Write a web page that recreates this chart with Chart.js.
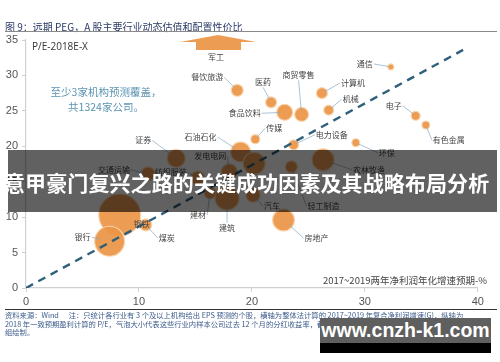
<!DOCTYPE html>
<html>
<head>
<meta charset="utf-8">
<script src="https://cdn.jsdelivr.net/npm/chart.js@4.4.1/dist/chart.umd.min.js"></script>
<style>
  html, body { margin: 0; padding: 0; background: #fff; }
  #wrap { position: relative; width: 500px; height: 362px; overflow: hidden; font-family: "Noto Sans CJK SC", "Noto Sans", sans-serif; }
  #c { position: absolute; left: 0; top: 0; }
  .abs { position: absolute; white-space: nowrap; }
  #title { left: 5px; top: 19px; font-size: 10px; color: #2b3a66; }
  #rule-top { left: 5px; top: 31px; width: 492px; height: 0; border-top: 1.5px solid #8a8a8a; }
  #rule-bot { left: 5px; top: 309px; width: 492px; height: 0; border-top: 1.5px solid #333; }
  #ylab { left: 32px; top: 39px; font-size: 10px; color: #333; font-family: "Open Sans", sans-serif; }
  #note { left: 50px; top: 84px; width: 112px; text-align: center; font-size: 10.5px; line-height: 15px; color: #5b93b0; }
  #xlab { right: 13px; top: 273px; font-size: 9.5px; color: #444; }
  #src { left: 5px; top: 311px; font-size: 7.3px; line-height: 8.6px; color: #3b5a8a; }
  #banner { left: 8px; top: 150px; width: 489px; height: 62px; background: rgba(0,0,0,0.62); }
  #headline { left: 4px; top: 169px; font-size: 21px; line-height: 26px; font-weight: 700; color: #fff; letter-spacing: 0.1px; }
  #wm { left: 320px; top: 318px; width: 171px; height: 25px; background: #5f5f5f; color: #fff; font-weight: 700; font-size: 19.5px; line-height: 25px; text-align: center; font-family: "Liberation Sans", Arial, sans-serif; }
  #wm2 { left: 320px; top: 343px; width: 171px; height: 10px; background: #000; }
</style>
</head>
<body>
<div id="wrap">
  <canvas id="c" width="500" height="362"></canvas>
  <div class="abs" id="title">图 9：远期 PEG，A 股主要行业动态估值和配置性价比</div>
  <div class="abs" id="rule-top"></div>
  <div class="abs" id="ylab">P/E-2018E-X</div>
  <div class="abs" id="note">至少3家机构预测覆盖，<br>共1324家公司。</div>
  <div class="abs" id="xlab">2017~2019两年净利润年化增速预期-%</div>
  <div class="abs" id="rule-bot"></div>
  <div class="abs" id="src">资料来源：Wind&nbsp;&nbsp;&nbsp;&nbsp;&nbsp;&nbsp;注：只统计各行业有 3 个及以上机构给出 EPS 预测的个股，横轴为整体法计算的 2017~2019 年复合净利润增速(G)，纵轴为<br>2018 年一致预期盈利计算的 P/E，气泡大小代表这些行业内样本公司过去 12 个月的分红收益率，截至 2017/11/06 市值加权，天风证券研究所策略<br>组绘制。</div>
  <div class="abs" id="banner"></div>
  <div class="abs" id="headline">意甲豪门复兴之路的关键成功因素及其战略布局分析</div>
  <div class="abs" id="wm">www.cnzh-k1.com</div>
  <div class="abs" id="wm2"></div>
</div>
<script>
// Industries, 2017~2019 profit growth (%), 2018E P/E, and trailing dividend yield (%)
const industries = ['餐饮旅游','医药','食品饮料','商贸零售','计算机','机械','通信','电子','有色金属','传媒',
  '石油石化','证券','电力设备','环保','农林牧渔','交通运输','纺织服装','发电电网','化工','建材',
  '建筑','汽车','轻工制造','钢铁','煤炭','银行','房地产','军工'];
const growth = [18.7,21.7,22.9,24.4,26.2,26.8,32.3,34.5,35.4,20.3,
  19.0,13.3,23.7,29.2,26.3,10.8,15.2,18.0,20.2,16.3,
  17.8,20.1,23.5,8.3,10.6,7.4,22.8,17.0];
const pe = [27.9,26.2,24.8,24.5,27.5,25.1,31.2,24.3,23.0,21.0,
  19.2,18.3,20.2,20.5,18.1,16.1,15.5,16.4,17.6,13.4,
  12.7,13.1,17.1,10.3,8.9,6.6,9.6,40.0];
const dividendYield = [0.64,0.54,1.14,0.87,0.54,0.44,0.16,0.36,0.28,0.36,
  1.78,1.44,0.44,0.28,2.15,0.87,0.87,1.14,2.15,0.64,
  2.56,0.87,0.64,7.84,0.64,4.00,2.15,1.00];

// Reference line (PEG = 1 style diagonal)
const refLineX = [0, 38.7];
const refLineY = [0, 33.6];

// Axis ticks
const xTicks = [0, 10, 20, 30, 40];
const yTicks = [0, 5, 10, 15, 20, 25, 30, 35];

// Label placement relative to each bubble centre (px)
const labelOffset = {
  '餐饮旅游': [-30,-13], '医药': [-8,-20], '食品饮料': [-40,1], '商贸零售': [-3,-39],
  '计算机': [31,-10], '机械': [22,-11], '通信': [-26,-3], '电子': [-22,-10],
  '有色金属': [23,15], '传媒': [19,-11], '石油石化': [-40,-15], '证券': [-33,-18],
  '电力设备': [38,-10], '环保': [31,10], '农林牧渔': [46,10], '交通运输': [-34,-4],
  '纺织服装': [-27,-6], '发电电网': [-19,-16], '建材': [-12,22], '建筑': [0,30],
  '汽车': [19,11], '轻工制造': [32,39], '钢铁': [22,9], '煤炭': [21,13],
  '银行': [-27,-4], '房地产': [33,18]
};

const bubbleRadius = v => 7.5 * Math.sqrt(v);
const bubblePoints = industries.map((n, i) => ({ x: growth[i], y: pe[i], r: bubbleRadius(dividendYield[i]), name: n }));
const linePoints = refLineX.map((x, i) => ({ x: x, y: refLineY[i] }));

const ORANGE = 'rgba(236,148,70,0.93)';

const labelPlugin = {
  id: 'bubbleLabels',
  afterDatasetsDraw(chart) {
    const ctx = chart.ctx;
    const xs = chart.scales.x, ys = chart.scales.y;
    const area = chart.chartArea;
    ctx.save();
    ctx.font = '8px "Noto Sans CJK SC"';
    ctx.textBaseline = 'middle';
    ctx.textAlign = 'center';
    bubblePoints.forEach(p => {
      const cx = xs.getPixelForValue(p.x);
      if (p.y > ys.max) {
        // off-scale category: upward marker at the top edge
        const t = area.top;
        ctx.fillStyle = ORANGE;
        ctx.beginPath();
        ctx.moveTo(cx - 38, t + 2);
        ctx.lineTo(cx, t - 5);
        ctx.lineTo(cx + 38, t + 2);
        ctx.closePath();
        ctx.fill();
        ctx.fillRect(cx - 22, t + 2, 45, 8);
        ctx.fillStyle = '#444';
        ctx.fillText(p.name, cx - 2, t + 17);
        return;
      }
      const off = labelOffset[p.name];
      if (!off) return;
      const cy = ys.getPixelForValue(p.y);
      const lx = cx + off[0], ly = cy + off[1];
      const w = ctx.measureText(p.name).width;
      let sx, sy;
      if (Math.abs(off[0]) > w / 2 + 2) {
        sx = off[0] > 0 ? lx - w / 2 - 1 : lx + w / 2 + 1;
        sy = ly;
      } else {
        sx = lx;
        sy = off[1] > 0 ? ly - 5 : ly + 5;
      }
      const dx = sx - cx, dy = sy - cy;
      const d = Math.hypot(dx, dy);
      const r = p.r;
      if (d > r + 1) {
        ctx.strokeStyle = 'rgba(140,170,195,0.9)';
        ctx.lineWidth = 0.8;
        ctx.beginPath();
        ctx.moveTo(sx, sy);
        ctx.lineTo(cx + dx / d * r * 0.6, cy + dy / d * r * 0.6);
        ctx.stroke();
      }
      ctx.fillStyle = '#444';
      ctx.fillText(p.name, lx, ly);
    });
    ctx.restore();
  }
};

new Chart(document.getElementById('c'), {
  type: 'bubble',
  data: {
    datasets: [
      {
        type: 'line',
        data: linePoints,
        borderColor: '#2f5f7a',
        borderWidth: 2.4,
        borderDash: [8, 6],
        pointRadius: 0,
        fill: false,
        order: 0
      },
      {
        data: bubblePoints,
        backgroundColor: ORANGE,
        borderColor: 'rgba(250,214,175,0.95)',
        borderWidth: 1.2,
        order: 1
      }
    ]
  },
  options: {
    responsive: false,
    devicePixelRatio: 1,
    animation: false,
    events: [],
    layout: { padding: { top: 40, right: 15, left: 0, bottom: 0 } },
    plugins: { legend: { display: false }, tooltip: { enabled: false } },
    scales: {
      x: {
        type: 'linear',
        min: 0, max: 40,
        afterFit: s => { s.height = 74; },
        afterBuildTicks: s => { s.ticks = xTicks.map(v => ({ value: v })); },
        border: { color: '#d0d0d0', width: 1.2 },
        grid: { display: true, drawOnChartArea: false, tickLength: 4, color: '#d0d0d0' },
        ticks: { padding: 3, color: '#555', font: { family: 'Liberation Sans', size: 11 } }
      },
      y: {
        type: 'linear',
        min: 0, max: 35,
        afterFit: s => { s.width = 26; },
        afterBuildTicks: s => { s.ticks = yTicks.map(v => ({ value: v })); },
        border: { color: '#d0d0d0', width: 1.2 },
        grid: { display: true, drawOnChartArea: false, tickLength: 4, color: '#d0d0d0' },
        ticks: { padding: 4, color: '#555', font: { family: 'Liberation Sans', size: 11 } }
      }
    }
  },
  plugins: [labelPlugin]
});
</script>
</body>
</html>
